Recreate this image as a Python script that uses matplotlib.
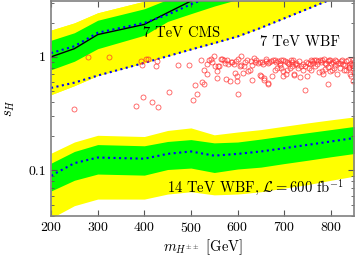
import numpy as np
import matplotlib
matplotlib.use("Agg")
import matplotlib.pyplot as plt
from matplotlib.ticker import FixedLocator, FixedFormatter, NullFormatter

plt.rcParams['font.family'] = 'serif'
plt.rcParams['font.serif'] = ['cmr10']
plt.rcParams['mathtext.fontset'] = 'cm'
plt.rcParams['axes.formatter.use_mathtext'] = True

# 7 TeV CMS limit with bands
m_cms = [200, 250, 300, 400, 450, 500, 550, 600, 650]
cms_y_hi = [1.72, 1.99, 2.44, 3.09, 3.8, 4.5, 5.0, 5.5, 6.0]
cms_g_hi = [1.40, 1.63, 2.10, 2.65, 3.2, 3.8, 4.3, 4.8, 5.3]
cms_obs = [1.00, 1.18, 1.57, 1.93, 2.45, 3.1, 3.6, 4.0, 4.4]
cms_exp = [1.08, 1.24, 1.63, 1.99, 2.35, 2.9, 3.5, 4.0, 4.4]
cms_g_lo = [0.77, 0.915, 1.18, 1.55, 2.05, 2.4, 2.8, 3.2, 3.6]

# 7 TeV WBF expected (also lower edge of the CMS 2 sigma band beyond 400)
m_wbf7 = [200, 250, 300, 400, 500, 550, 600, 650, 700, 750, 800, 850]
wbf7 = [0.533, 0.593, 0.684, 0.885, 1.16, 1.32, 1.51, 1.80, 2.18, 2.64, 3.2, 3.87]
cms_y_lo = [0.465, 0.558, 0.684, 0.885, 1.16, 1.32, 1.51, 1.80, 2.18, 2.64, 3.2, 3.87]

# 14 TeV WBF, 600 fb^-1
m14 = [200, 250, 300, 400, 450, 500, 550, 600, 650, 700, 750, 800, 850]
w14_y_lo = [0.038, 0.049, 0.056, 0.056, 0.062, 0.065, 0.061, 0.062, 0.065, 0.070, 0.075, 0.082, 0.089]
w14_g_lo = [0.066, 0.082, 0.093, 0.091, 0.102, 0.105, 0.096, 0.103, 0.107, 0.115, 0.123, 0.132, 0.141]
w14_exp = [0.090, 0.116, 0.130, 0.127, 0.140, 0.147, 0.135, 0.140, 0.147, 0.157, 0.168, 0.180, 0.193]
w14_g_hi = [0.116, 0.147, 0.169, 0.165, 0.180, 0.187, 0.175, 0.178, 0.189, 0.202, 0.215, 0.229, 0.244]
w14_y_hi = [0.142, 0.178, 0.204, 0.199, 0.225, 0.237, 0.206, 0.218, 0.229, 0.245, 0.262, 0.279, 0.296]

# scan points
scan_m = [280, 325, 393, 403, 408, 396, 428, 426, 473, 495, 522, 538, 529, 534, 509, 524, 528,
          513, 505, 453, 398, 417, 382, 429, 249, 600, 744,
          542, 549, 564, 567, 578, 587, 596, 607, 608, 620, 635, 637, 644, 648, 653, 660, 665,
          671, 676, 680, 683, 690, 694, 701, 708, 714, 717, 723, 728, 737, 744, 751, 757, 760,
          764, 773, 776, 781, 787, 794, 798, 801, 808, 812, 819, 824, 830, 833, 838, 844, 847, 850,
          555, 557, 560, 551, 573, 585, 605, 613, 623, 626, 612, 630, 648, 651, 657, 665, 673,
          681, 685, 694, 698, 703, 705, 712, 717, 721, 730, 733, 741, 748, 753, 758, 765, 774,
          780, 783, 788, 794, 798, 802, 807, 814, 819, 828, 833, 838, 842, 844, 847,
          555, 576, 584, 594, 598, 599, 631, 657, 665, 698, 721, 794,
          640, 655, 662, 668, 686, 692, 697, 706, 711, 719, 726, 732, 740, 746, 755, 762,
          768, 771, 778, 785, 790, 796, 804, 810, 816, 822, 826, 836, 840, 848, 849, 845,
          600, 615, 628, 580, 592, 570, 545, 535]
scan_s = [1.0, 1.0, 0.915, 0.960, 0.960, 0.855, 0.915, 0.826, 0.850, 0.850, 0.947, 0.947, 0.762,
          0.713, 0.570, 0.597, 0.581, 0.472, 0.414, 0.488, 0.440, 0.401, 0.367, 0.360, 0.350,
          0.472, 0.512,
          0.960, 1.02, 0.960, 0.966, 0.947, 0.897, 0.928, 1.013, 0.855, 0.947, 0.979, 0.897,
          0.885, 0.897, 0.897, 0.915, 0.885, 0.915, 0.947, 0.934, 0.897, 0.855, 0.947, 0.915,
          0.885, 0.947, 0.897, 0.873, 0.855, 0.838, 0.827, 0.885, 0.934, 0.915, 0.947, 0.915,
          0.947, 0.934, 0.885, 0.915, 0.947, 0.885, 0.855, 0.915, 0.885, 0.947, 0.855, 0.915,
          0.855, 0.885, 0.947, 0.897,
          0.747, 0.827, 0.838, 0.838, 0.885, 0.897, 0.827, 0.827, 0.747, 0.762, 0.722, 0.855,
          0.698, 0.684, 0.631, 0.589, 0.675, 0.773, 0.799, 0.799, 0.747, 0.712, 0.773, 0.799,
          0.838, 0.712, 0.799, 0.666, 0.773, 0.684, 0.799, 0.762, 0.827, 0.732, 0.747, 0.712,
          0.783, 0.816, 0.747, 0.762, 0.799, 0.712, 0.799, 0.773, 0.762, 0.799, 0.712, 0.675,
          0.610,
          0.652, 0.639, 0.610, 0.722, 0.610, 0.684, 0.622, 0.652, 0.577, 0.675, 0.698, 0.581,
          0.93, 0.87, 0.95, 0.90, 0.92, 0.88, 0.93, 0.91, 0.87, 0.93, 0.89, 0.92, 0.87, 0.91,
          0.86, 0.89, 0.93, 0.87, 0.90, 0.95, 0.87, 0.93, 0.91, 0.94, 0.88, 0.92, 0.86, 0.93,
          0.82, 0.80, 0.74, 0.84,
          0.95, 0.90, 0.92, 0.86, 0.87, 0.93, 0.90, 0.87]

fig = plt.figure(figsize=(3.57, 2.58), dpi=100)
ax = fig.add_axes([0.143, 0.164, 0.849, 0.832])

ax.fill_between(m_cms, cms_y_hi, np.interp(m_cms, m_wbf7, cms_y_lo), color='#ffff00', lw=0)
ax.fill_between(m_wbf7, np.interp(m_wbf7, m_cms, cms_y_hi, right=10), cms_y_lo,
                color='#ffff00', lw=0)
ax.fill_between(m_cms, cms_g_lo, cms_g_hi, color='#00ff00', lw=0)
ax.plot(m_cms, cms_obs, color='black', lw=1)
ax.plot(m_cms, cms_exp, color='blue', ls=':', lw=1.5)
ax.plot(m_wbf7, wbf7, color='blue', ls=':', lw=1.5)

ax.fill_between(m14, w14_y_lo, w14_y_hi, color='#ffff00', lw=0)
ax.fill_between(m14, w14_g_lo, w14_g_hi, color='#00ff00', lw=0)
ax.plot(m14, w14_exp, color='blue', ls=':', lw=1.5)

ax.plot(scan_m, scan_s, 'o', mfc='none', mec='#ff3030', mew=0.6, ms=3.6, alpha=0.8)

ax.text(480, 1.61, '7 TeV CMS', fontsize=10.5, ha='center', va='center')
ax.text(733, 1.35, '7 TeV WBF', fontsize=10.5, ha='center', va='center')
ax.text(448, 0.0718, r'14 TeV WBF, $\mathcal{L}=600$ fb$^{-1}$', fontsize=10.5,
        ha='left', va='center')

ax.set_yscale('log')
ax.set_xlim(200, 850)
ax.set_ylim(0.04, 3.1)
ax.yaxis.set_major_locator(FixedLocator([0.1, 1]))
ax.yaxis.set_major_formatter(FixedFormatter(['0.1', '1']))
ax.yaxis.set_minor_formatter(NullFormatter())
ax.set_xticks([200, 300, 400, 500, 600, 700, 800])
ax.set_xlabel(r'$m_{H^{\pm\pm}}$ [GeV]', fontsize=10.5, labelpad=2)
ax.set_ylabel(r'$s_H$', fontsize=10.5, labelpad=8)
ax.tick_params(which='both', direction='in', top=True, right=True, labelsize=10,
               color='#555555')
ax.tick_params(which='major', length=4)
ax.tick_params(which='minor', length=2)
for s in ax.spines.values():
    s.set_color('#808080')
    s.set_linewidth(1.2)

fig.savefig('out.png', dpi=100)
